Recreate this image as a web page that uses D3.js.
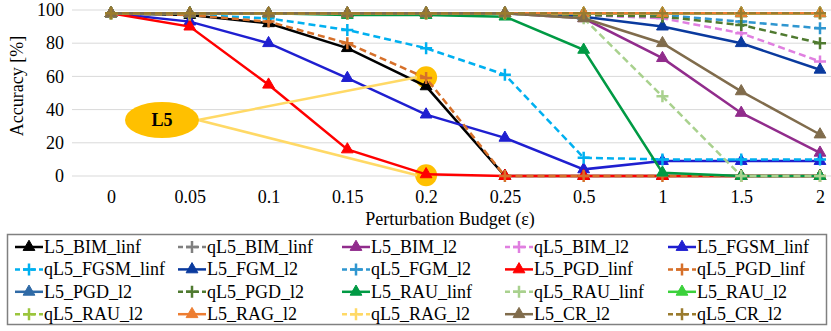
<!DOCTYPE html>
<html><head><meta charset="utf-8">
<script src="https://cdn.jsdelivr.net/npm/d3@7"></script>
<style>body{margin:0;background:#fff}svg{display:block}svg text{font-family:"Liberation Serif","Times New Roman",Times,"DejaVu Serif",serif}</style>
</head><body>
<svg id="c" width="831" height="331"></svg>
<script>
const categories = ["0","0.05","0.1","0.15","0.2","0.25","0.5","1","1.5","2"];
const yTicks = [0,20,40,60,80,100];
const seriesNames = ["L5_BIM_linf","qL5_BIM_linf","L5_BIM_l2","qL5_BIM_l2","L5_FGSM_linf",
  "qL5_FGSM_linf","L5_FGM_l2","qL5_FGM_l2","L5_PGD_linf","qL5_PGD_linf",
  "L5_PGD_l2","qL5_PGD_l2","L5_RAU_linf","qL5_RAU_linf","L5_RAU_l2",
  "qL5_RAU_l2","L5_RAG_l2","qL5_RAG_l2","L5_CR_l2","qL5_CR_l2"];
const seriesColors = ["#000000","#808080","#912C8C","#E07FE0","#1F1FD0",
  "#00B0F0","#0A3A9E","#2F96D0","#FF0000","#D6702A",
  "#2F6AA6","#4F7A30","#009A44","#A9D18E","#3BD13B",
  "#9BC53D","#ED7D31","#FFD966","#806C4C","#9A7B2E"];
const seriesDashed = [false,true,false,true,false,true,false,true,false,true,
  false,true,false,true,false,true,false,true,false,true];
const values = [
  [98,97,92,77,54,0,0,0,0,0],
  [98,98,98,98,98,98,98,98,98,98],
  [98,98,98,98,98,98,95,71,38,14],
  [98,98,98,98,98,98,97,95,86,69],
  [98,93,80,59,37,23,4,9,9,9],
  [98,97,95,88,77,61,11,10,10,10],
  [98,98,98,98,98,98,96,90,80,64],
  [98,98,98,98,98,98,97,97,93,89],
  [98,90,55,16,1,0,0,0,0,0],
  [98,97,93,80,59,0,0,0,0,0],
  [98,98,98,98,98,98,98,98,98,98],
  [98,98,98,98,98,98,97,96,91,80],
  [98,98,98,97,97,96,76,2,0,0],
  [98,98,98,98,98,98,95,48,0,0],
  [98,98,98,98,98,98,98,98,98,98],
  [98,98,98,98,98,98,98,98,98,98],
  [98,98,98,98,98,98,98,98,98,98],
  [98,98,98,98,98,98,98,98,98,98],
  [98,98,98,98,98,98,95,80,51,25],
  [98,98,98,98,98,98,98,98,98,98]
];
const annotationLabel = "L5";
const annotationTargets = [["0.2",59.5],["0.2",0.5]];

const svg = d3.select("#c");
const x = d3.scalePoint().domain(categories).range([111,820]);
const y = d3.scaleLinear().domain([0,100]).range([176,10]);

// grid
svg.append("g").selectAll("line").data(yTicks).join("line")
  .attr("x1",72).attr("x2",831).attr("y1",d=>y(d)).attr("y2",d=>y(d))
  .attr("stroke","#D9D9D9").attr("stroke-width",1);

// axes (labels only)
const yAxis = svg.append("g").attr("transform","translate(66,0)")
  .call(d3.axisLeft(y).tickValues(yTicks).tickSize(0).tickPadding(2));
yAxis.select(".domain").remove();
yAxis.attr("font-family",null);
yAxis.selectAll("text").attr("font-size",18).attr("fill","#000");
const xAxis = svg.append("g").attr("transform","translate(0,186)")
  .call(d3.axisBottom(x).tickSize(0).tickPadding(4));
xAxis.select(".domain").remove();
xAxis.attr("font-family",null);
xAxis.selectAll("text").attr("font-size",18).attr("fill","#000");

svg.append("text").attr("transform","translate(23,86) rotate(-90)")
  .attr("text-anchor","middle").attr("font-size",18).text("Accuracy [%]");
svg.append("text").attr("x",450).attr("y",225)
  .attr("text-anchor","middle").attr("font-size",18).text("Perturbation Budget (ε)");

// annotation highlight circles (beneath series)
svg.append("g").selectAll("circle").data(annotationTargets).join("circle")
  .attr("cx",d=>x(d[0])).attr("cy",d=>y(d[1])).attr("r",11).attr("fill","#FFC000");

// series
const line = d3.line().x((d,i)=>x(categories[i])).y(d=>y(d));
const tri = d3.symbol().type(d3.symbolTriangle).size(60)();
const plus = "M-6,0H6M0,-6V6";
seriesNames.forEach((name,k)=>{
  const g = svg.append("g");
  g.append("path").attr("d",line(values[k])).attr("fill","none")
    .attr("stroke",seriesColors[k]).attr("stroke-width",2.5)
    .attr("stroke-dasharray",seriesDashed[k]?"7,4":null);
  g.selectAll("path.m").data(values[k]).join("path").attr("class","m")
    .attr("transform",(d,i)=>`translate(${x(categories[i])},${y(d)})`)
    .attr("d",seriesDashed[k]?plus:tri)
    .attr("fill",seriesDashed[k]?"none":seriesColors[k])
    .attr("stroke",seriesColors[k]).attr("stroke-width",seriesDashed[k]?2.5:1);
});

// annotation callout
const ex=162, ey=120;
svg.append("g").selectAll("line").data(annotationTargets).join("line")
  .attr("x1",ex+36).attr("y1",ey).attr("x2",d=>x(d[0])-9).attr("y2",d=>y(d[1]))
  .attr("stroke","#FFD966").attr("stroke-width",2.5);
svg.append("ellipse").attr("cx",ex).attr("cy",ey).attr("rx",37).attr("ry",18).attr("fill","#FFC000");
svg.append("text").attr("x",ex).attr("y",ey+6).attr("text-anchor","middle")
  .attr("font-size",18).attr("font-weight","bold").text(annotationLabel);

// legend
const lg = svg.append("g");
lg.append("rect").attr("x",7.5).attr("y",234.5).attr("width",819).attr("height",90)
  .attr("fill","#fff").attr("stroke","#808080").attr("stroke-width",1.5);
const colX = [15,178,342,505,668];
seriesNames.forEach((name,k)=>{
  const c = k%5, r = Math.floor(k/5);
  const gx = colX[c], gy = 247 + r*22.4;
  const it = lg.append("g").attr("transform",`translate(${gx},${gy})`);
  it.append("line").attr("x1",0).attr("x2",28).attr("y1",0).attr("y2",0)
    .attr("stroke",seriesColors[k]).attr("stroke-width",2.5)
    .attr("stroke-dasharray",seriesDashed[k]?"5,3":null);
  it.append("path").attr("transform","translate(14,0)")
    .attr("d",seriesDashed[k]?plus:tri)
    .attr("fill",seriesDashed[k]?"none":seriesColors[k])
    .attr("stroke",seriesColors[k]).attr("stroke-width",seriesDashed[k]?2.5:1);
  it.append("text").attr("x",29).attr("y",6).attr("font-size",18).text(name);
});
</script>
</body></html>
